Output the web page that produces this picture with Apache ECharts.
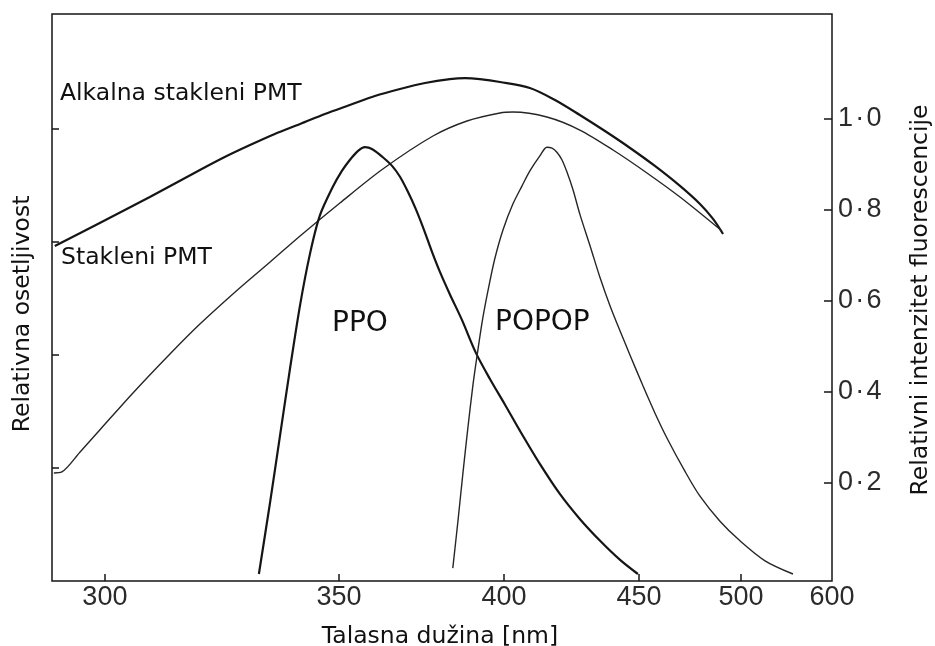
<!DOCTYPE html>
<html>
<head>
<meta charset="utf-8">
<script src="https://cdn.jsdelivr.net/npm/echarts@6/dist/echarts.min.js"></script>
<style>
  html, body { margin: 0; padding: 0; background: #ffffff; }
  #chart { width: 935px; height: 646px; }
</style>
</head>
<body>
<div id="chart"></div>
<script>
// Wavelength ticks of the (non-uniform) spectral axis and where each sits along it
const tickWavelengths = [300, 350, 400, 450, 500, 600];
const tickStops = [0, 234, 399, 534, 636, 727];
const axisStartNm = 288.7;

// Relative fluorescence ticks (right axis) and sensitivity ticks (left axis)
const fluorTicks = [0.2, 0.4, 0.6, 0.8, 1.0];
const sensTicks = [1, 2, 3, 4];

// PMT relative sensitivity, [wavelength nm, relative units]
const alkalnaPmt = [
  [289.3, 2.965], [298.9, 3.168], [309.6, 3.398], [320.3, 3.637], [325.6, 3.752],
  [331.0, 3.858], [336.3, 3.956], [341.7, 4.044], [347.0, 4.133], [353.3, 4.212],
  [360.9, 4.292], [368.5, 4.354], [376.1, 4.407], [383.6, 4.442], [388.2, 4.451],
  [392.7, 4.442], [398.8, 4.416], [409.6, 4.363], [418.9, 4.257], [428.1, 4.124],
  [437.4, 3.982], [446.7, 3.832], [457.8, 3.673], [470.1, 3.496], [479.9, 3.336],
  [486.3, 3.204], [491.2, 3.071]
];
const stakleniPmt = [
  [289.1, 0.956], [290.8, 0.965], [294.7, 1.142], [298.9, 1.336], [306.0, 1.664],
  [313.9, 2.009], [320.3, 2.274], [328.8, 2.593], [335.3, 2.823], [341.7, 3.053],
  [350.3, 3.345], [363.3, 3.646], [378.5, 3.938], [388.8, 4.071], [398.8, 4.142],
  [403.3, 4.150], [415.9, 4.106], [428.1, 3.991], [440.4, 3.814], [453.9, 3.611],
  [470.1, 3.398], [490.7, 3.097]
];

// Fluorescence emission spectra, [wavelength nm, relative intensity]
const ppo = [
  [332.9, 0.000], [335.3, 0.158], [337.4, 0.303], [339.5, 0.448], [341.7, 0.591],
  [343.8, 0.703], [345.9, 0.787], [348.7, 0.851], [350.9, 0.886], [353.3, 0.910],
  [355.8, 0.930], [357.9, 0.938], [360.0, 0.934], [363.3, 0.916], [366.1, 0.897],
  [368.5, 0.873], [370.9, 0.840], [373.3, 0.802], [375.8, 0.756], [378.2, 0.708],
  [380.6, 0.664], [383.6, 0.615], [387.3, 0.558], [391.5, 0.486], [395.8, 0.428],
  [400.4, 0.372], [405.9, 0.315], [413.3, 0.242], [420.7, 0.176], [428.1, 0.121],
  [435.6, 0.073], [443.0, 0.031], [449.6, 0.000]
];
const popop = [
  [384.5, 0.013], [386.1, 0.119], [387.6, 0.224], [389.1, 0.323], [390.6, 0.415],
  [392.1, 0.492], [393.6, 0.563], [395.5, 0.635], [397.3, 0.695], [399.7, 0.756],
  [403.3, 0.813], [406.7, 0.853], [409.6, 0.886], [413.3, 0.919], [415.9, 0.938],
  [417.8, 0.936], [419.6, 0.927], [421.5, 0.910], [423.3, 0.884], [425.6, 0.844],
  [428.1, 0.791], [431.9, 0.721], [435.6, 0.651], [439.3, 0.589], [443.0, 0.534],
  [446.7, 0.481], [452.0, 0.413], [457.8, 0.354], [463.7, 0.299], [472.5, 0.226],
  [479.9, 0.171], [489.7, 0.116], [499.5, 0.073], [526.4, 0.029], [557.1, 0.000]
];

// Piecewise-linear map from wavelength to the axis coordinate
function toAxis(nm) {
  let i = 0;
  while (i < tickWavelengths.length - 2 && nm > tickWavelengths[i + 1]) i++;
  const w0 = tickWavelengths[i], w1 = tickWavelengths[i + 1];
  const s0 = tickStops[i], s1 = tickStops[i + 1];
  return s0 + (nm - w0) / (w1 - w0) * (s1 - s0);
}
function labelFor(pos) {
  let best = 0;
  tickStops.forEach((s, i) => { if (Math.abs(s - pos) < Math.abs(tickStops[best] - pos)) best = i; });
  return String(tickWavelengths[best]);
}
const mapSeries = arr => arr.map(([nm, v]) => [toAxis(nm), v]);

const ink = '#151515';
const textFont = '"DejaVu Sans", sans-serif';
const tickFont = '"Liberation Sans", Arial, sans-serif';

const chart = echarts.init(document.getElementById('chart'), null, { renderer: 'canvas' });

const textStyle = (text, size, align) => ({
  text: text, font: size + 'px ' + textFont, fill: '#111',
  align: align, verticalAlign: 'middle', textAlign: align, textVerticalAlign: 'middle'
});

chart.setOption({
  animation: false,
  backgroundColor: '#ffffff',
  grid: {
    left: 52, right: 103, top: 14, bottom: 65,
    show: true, borderColor: ink, borderWidth: 1.5, backgroundColor: 'transparent'
  },
  xAxis: {
    type: 'value',
    min: toAxis(axisStartNm),
    max: toAxis(600),
    axisLine: { show: false, onZero: false },
    splitLine: { show: false },
    axisTick: {
      show: true, inside: true, length: 7,
      lineStyle: { color: ink, width: 1.5 },
      customValues: tickWavelengths.slice(0, -1).map(toAxis)
    },
    axisLabel: {
      show: true, margin: 3,
      customValues: tickWavelengths.map(toAxis),
      formatter: v => labelFor(v),
      fontFamily: tickFont, fontSize: 27, color: '#2b2b2b'
    }
  },
  yAxis: [
    {
      type: 'value', position: 'left',
      min: 0, max: 567 / 113,
      axisLine: { show: false, onZero: false },
      splitLine: { show: false },
      axisTick: {
        show: true, inside: true, length: 7,
        lineStyle: { color: ink, width: 1.5 },
        customValues: sensTicks
      },
      axisLabel: { show: false }
    },
    {
      type: 'value', position: 'right',
      min: -7 / 455, max: 560 / 455,
      axisLine: { show: false, onZero: false },
      splitLine: { show: false },
      axisTick: {
        show: true, inside: true, length: 8,
        lineStyle: { color: ink, width: 1.5 },
        customValues: fluorTicks
      },
      axisLabel: {
        show: true, margin: 6,
        customValues: fluorTicks,
        formatter: v => v.toFixed(1).replace('.', '\u200A\u00B7\u200A'),
        fontFamily: tickFont, fontSize: 27, color: '#2b2b2b',
        padding: [0, 0, 8, 0]
      }
    }
  ],
  series: [
    {
      name: 'Alkalna stakleni PMT', type: 'line', yAxisIndex: 0,
      data: mapSeries(alkalnaPmt), smooth: 0.3, symbol: 'none',
      lineStyle: { color: ink, width: 2.2 }
    },
    {
      name: 'Stakleni PMT', type: 'line', yAxisIndex: 0,
      data: mapSeries(stakleniPmt), smooth: 0.3, symbol: 'none',
      lineStyle: { color: '#262626', width: 1.4 }
    },
    {
      name: 'PPO', type: 'line', yAxisIndex: 1,
      data: mapSeries(ppo), smooth: 0.3, symbol: 'none',
      lineStyle: { color: ink, width: 2.2 }
    },
    {
      name: 'POPOP', type: 'line', yAxisIndex: 1,
      data: mapSeries(popop), smooth: 0.3, symbol: 'none',
      lineStyle: { color: '#262626', width: 1.4 }
    }
  ],
  graphic: [
    { type: 'text', x: 60, y: 93.5, style: textStyle('Alkalna stakleni PMT', 23.5, 'left') },
    { type: 'text', x: 61, y: 258, style: textStyle('Stakleni PMT', 23.5, 'left') },
    { type: 'text', x: 332, y: 323.5, style: textStyle('PPO', 28, 'left') },
    { type: 'text', x: 495, y: 322.5, style: textStyle('POPOP', 28, 'left') },
    { type: 'text', x: 440, y: 636.5, style: textStyle('Talasna dužina [nm]', 23.5, 'center') },
    { type: 'text', x: 22.5, y: 314, rotation: Math.PI / 2,
      style: textStyle('Relativna osetljivost', 23.5, 'center') },
    { type: 'text', x: 920.5, y: 300, rotation: Math.PI / 2,
      style: textStyle('Relativni intenzitet fluorescencije', 23.5, 'center') }
  ]
});
</script>
</body>
</html>
